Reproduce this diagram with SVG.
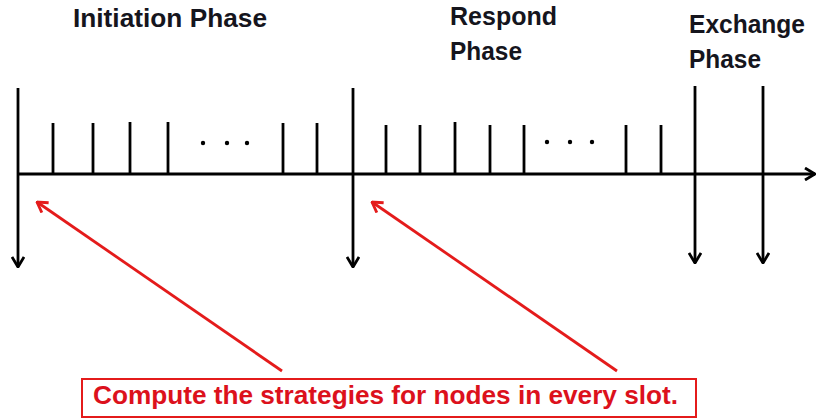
<svg xmlns="http://www.w3.org/2000/svg" width="818" height="419" viewBox="0 0 818 419">
<defs>
<style>
.lbl{font-family:"Liberation Sans",Arial,sans-serif;font-weight:bold;font-size:26px;fill:#15151d}
.blk{stroke:#000;stroke-width:2.8;fill:none}
.red{stroke:#e41b1b;stroke-width:2.8;fill:none}
.note{font-family:"Liberation Sans",Arial,sans-serif;font-weight:bold;font-size:25px;fill:#dc111c}
</style>
<marker id="ah" viewBox="0 0 12 14" refX="11" refY="7" markerWidth="12" markerHeight="14" markerUnits="userSpaceOnUse" orient="auto">
<path d="M1,1 L11,7 L1,13" fill="none" stroke="#000" stroke-width="2.8"/>
</marker>
<marker id="ahr" viewBox="0 0 12 14" refX="11" refY="7" markerWidth="12" markerHeight="14" markerUnits="userSpaceOnUse" orient="auto">
<path d="M1,1 L11,7 L1,13" fill="none" stroke="#e41b1b" stroke-width="2.8"/>
</marker>
</defs>
<rect width="818" height="419" fill="#fff"/>
<g id="labels">
<text class="lbl" x="73" y="27" textLength="194" lengthAdjust="spacingAndGlyphs">Initiation Phase</text>
<text class="lbl" x="450" y="25" textLength="107" lengthAdjust="spacingAndGlyphs">Respond</text>
<text class="lbl" x="450" y="60" textLength="72" lengthAdjust="spacingAndGlyphs">Phase</text>
<text class="lbl" x="689" y="33" textLength="116" lengthAdjust="spacingAndGlyphs">Exchange</text>
<text class="lbl" x="689" y="68" textLength="72" lengthAdjust="spacingAndGlyphs">Phase</text>
</g>
<g id="timeline">
<line class="blk" x1="18" y1="174" x2="815" y2="174" marker-end="url(#ah)"/>
<g id="ticks" class="blk">
<line x1="53" y1="123" x2="53" y2="174"/>
<line x1="93" y1="123" x2="93" y2="174"/>
<line x1="130" y1="122" x2="130" y2="174"/>
<line x1="168" y1="122" x2="168" y2="174"/>
<line x1="283" y1="123" x2="283" y2="174"/>
<line x1="317" y1="123" x2="317" y2="174"/>
<line x1="386" y1="125" x2="386" y2="174"/>
<line x1="420" y1="125" x2="420" y2="174"/>
<line x1="455" y1="122" x2="455" y2="174"/>
<line x1="490" y1="125" x2="490" y2="174"/>
<line x1="524" y1="125" x2="524" y2="174"/>
<line x1="626" y1="125" x2="626" y2="174"/>
<line x1="661" y1="125" x2="661" y2="174"/>
</g>
<g id="dots" fill="#000">
<circle cx="203" cy="143" r="2.2"/>
<circle cx="227" cy="143" r="2.2"/>
<circle cx="247" cy="143" r="2.2"/>
<circle cx="547" cy="142" r="2.2"/>
<circle cx="570" cy="142" r="2.2"/>
<circle cx="592" cy="142" r="2.2"/>
</g>
</g>
<g id="connectors">
<line class="blk" x1="18" y1="88" x2="18" y2="267" marker-end="url(#ah)"/>
<line class="blk" x1="353" y1="88" x2="353" y2="267" marker-end="url(#ah)"/>
<line class="blk" x1="695" y1="86" x2="695" y2="263" marker-end="url(#ah)"/>
<line class="blk" x1="763" y1="86" x2="763" y2="263" marker-end="url(#ah)"/>
<line class="red" x1="282" y1="371" x2="37" y2="202" marker-end="url(#ahr)"/>
<line class="red" x1="617" y1="371" x2="372" y2="202" marker-end="url(#ahr)"/>
</g>
<g id="note">
<rect x="82" y="379" width="614" height="38" fill="#fff" stroke="#e41b1b" stroke-width="2"/>
<text class="note" x="93" y="404" textLength="585" lengthAdjust="spacingAndGlyphs">Compute the strategies for nodes in every slot.</text>
</g>
</svg>
